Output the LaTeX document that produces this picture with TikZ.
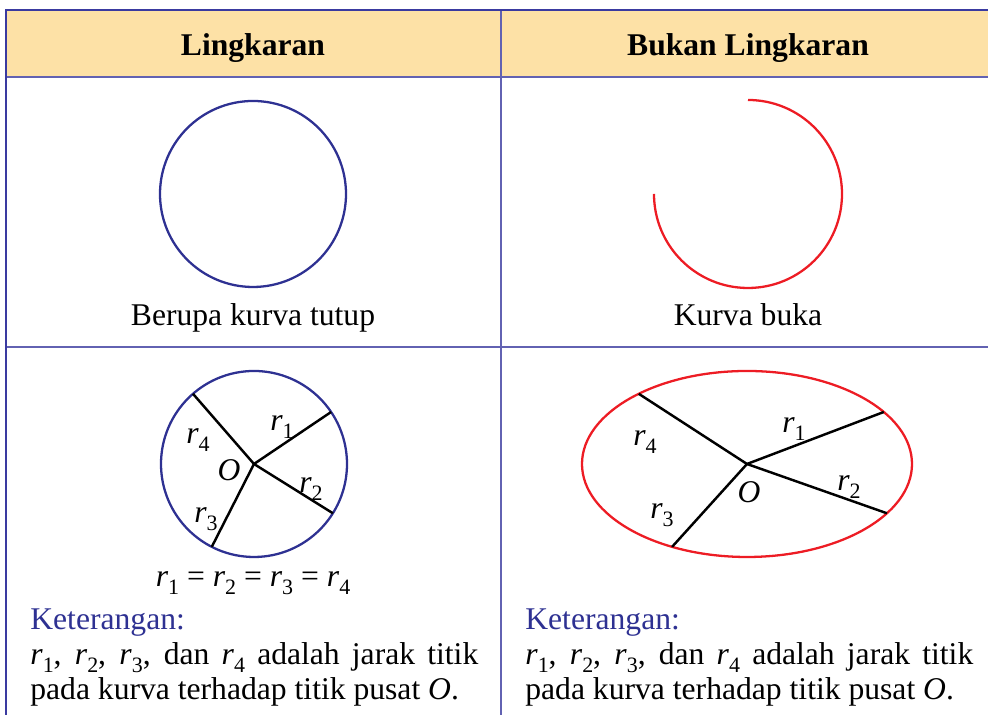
\documentclass[tikz,border=0pt]{standalone}
\usepackage{fontspec}
\setmainfont{Liberation Serif}
\usetikzlibrary{positioning, calc}

\definecolor{gridblue}{RGB}{98,98,178}
\definecolor{edgeblue}{RGB}{58,58,160}
\definecolor{headfill}{RGB}{253,225,166}
\definecolor{circblue}{RGB}{46,49,146}
\definecolor{curvered}{RGB}{237,28,36}
\definecolor{ketblue}{RGB}{46,49,146}

\newcommand{\rsub}[1]{\textit{r}\raisebox{-0.25em}{\fontsize{12.5}{12.5}\selectfont #1}}

\begin{document}
\begin{tikzpicture}[
    x=0.02cm, y=0.02cm,
    font=\fontsize{18}{21}\selectfont,
    gridline/.style={draw=gridblue, line width=1.1pt},
    border/.style={draw=edgeblue, line width=1.2pt},
    head/.style={font=\fontsize{18}{21}\selectfont\bfseries},
    curve/.style={line width=1.3pt},
    spoke/.style={draw=black, line width=1.4pt},
    lbl/.style={inner sep=0pt},
    ket/.style={anchor=base west, inner sep=0pt}
]
\useasboundingbox (0,0) rectangle (988,715);

% table
\fill[headfill] (6,705) rectangle (988,638);
\draw[gridline] (6,638) -- (988,638);
\draw[gridline] (6,368) -- (988,368);
\draw[gridline] (501,705) -- (501,0);
\draw[border] (988,705) -- (6,705) -- (6,0);

\node[head, anchor=base] (hl) at (253,659) {Lingkaran};
\node[head, anchor=base] (hr) at (748,659) {Bukan Lingkaran};

% first row
\draw[curve, circblue] (253,521) circle (93);
\node[anchor=base] (cap1) at (253,389) {Berupa kurva tutup};

\coordinate (C) at (748,521);
\draw[curve, curvered] ($(C)+(180:94)$) arc[start angle=180, end angle=450, radius=94];
\node[anchor=base] (cap2) at (748,389) {Kurva buka};

% second row, circle
\coordinate (O1) at (254,251);
\draw[curve, circblue] (O1) circle (93);
\coordinate (a1) at ($(O1)+(34:93)$);
\coordinate (a2) at ($(O1)+(-32:93)$);
\coordinate (a3) at ($(O1)+(-117:93)$);
\coordinate (a4) at ($(O1)+(131:93)$);
\foreach \i in {1,...,4}
    \draw[spoke] (O1) -- (a\i);

\node[lbl] (l1) at (282,288) {\rsub{1}};
\node[lbl] (l2) at (311,226) {\rsub{2}};
\node[lbl] (l3) at (206,196) {\rsub{3}};
\node[lbl] (l4) at (198,275) {\rsub{4}};
\node[lbl] (o1) at (229,245) {\textit{O}};

\node[anchor=base] (eq) at (253,128) {\rsub{1} = \rsub{2} = \rsub{3} = \rsub{4}};

% second row, ellipse
\coordinate (O2) at (747,251);
\draw[curve, curvered] (O2) ellipse [x radius=165, y radius=93];
\coordinate (b1) at ($(O2)+(34:165 and 93)$);
\coordinate (b2) at ($(O2)+(-32:165 and 93)$);
\coordinate (b3) at ($(O2)+(-117:165 and 93)$);
\coordinate (b4) at ($(O2)+(131:165 and 93)$);
\foreach \i in {1,...,4}
    \draw[spoke] (O2) -- (b\i);

\node[lbl] (m1) at (794,286) {\rsub{1}};
\node[lbl] (m2) at (849,228) {\rsub{2}};
\node[lbl] (m3) at (662,200) {\rsub{3}};
\node[lbl] (m4) at (645,273) {\rsub{4}};
\node[lbl] (o2) at (749,223) {\textit{O}};

% Keterangan
\node[ket, text=ketblue] (kl) at (30,85) {Keterangan:};
\node[ket] (kl1) at (30,50) {\makebox[8.96cm][s]{\rsub{1}, \rsub{2}, \rsub{3}, dan \rsub{4} adalah jarak titik}};
\node[ket] (kl2) at (30,15) {pada kurva terhadap titik pusat \textit{O}.};

\node[ket, text=ketblue] (kr) at (525,85) {Keterangan:};
\node[ket] (kr1) at (525,50) {\makebox[8.96cm][s]{\rsub{1}, \rsub{2}, \rsub{3}, dan \rsub{4} adalah jarak titik}};
\node[ket] (kr2) at (525,15) {pada kurva terhadap titik pusat \textit{O}.};

\end{tikzpicture}
\end{document}
